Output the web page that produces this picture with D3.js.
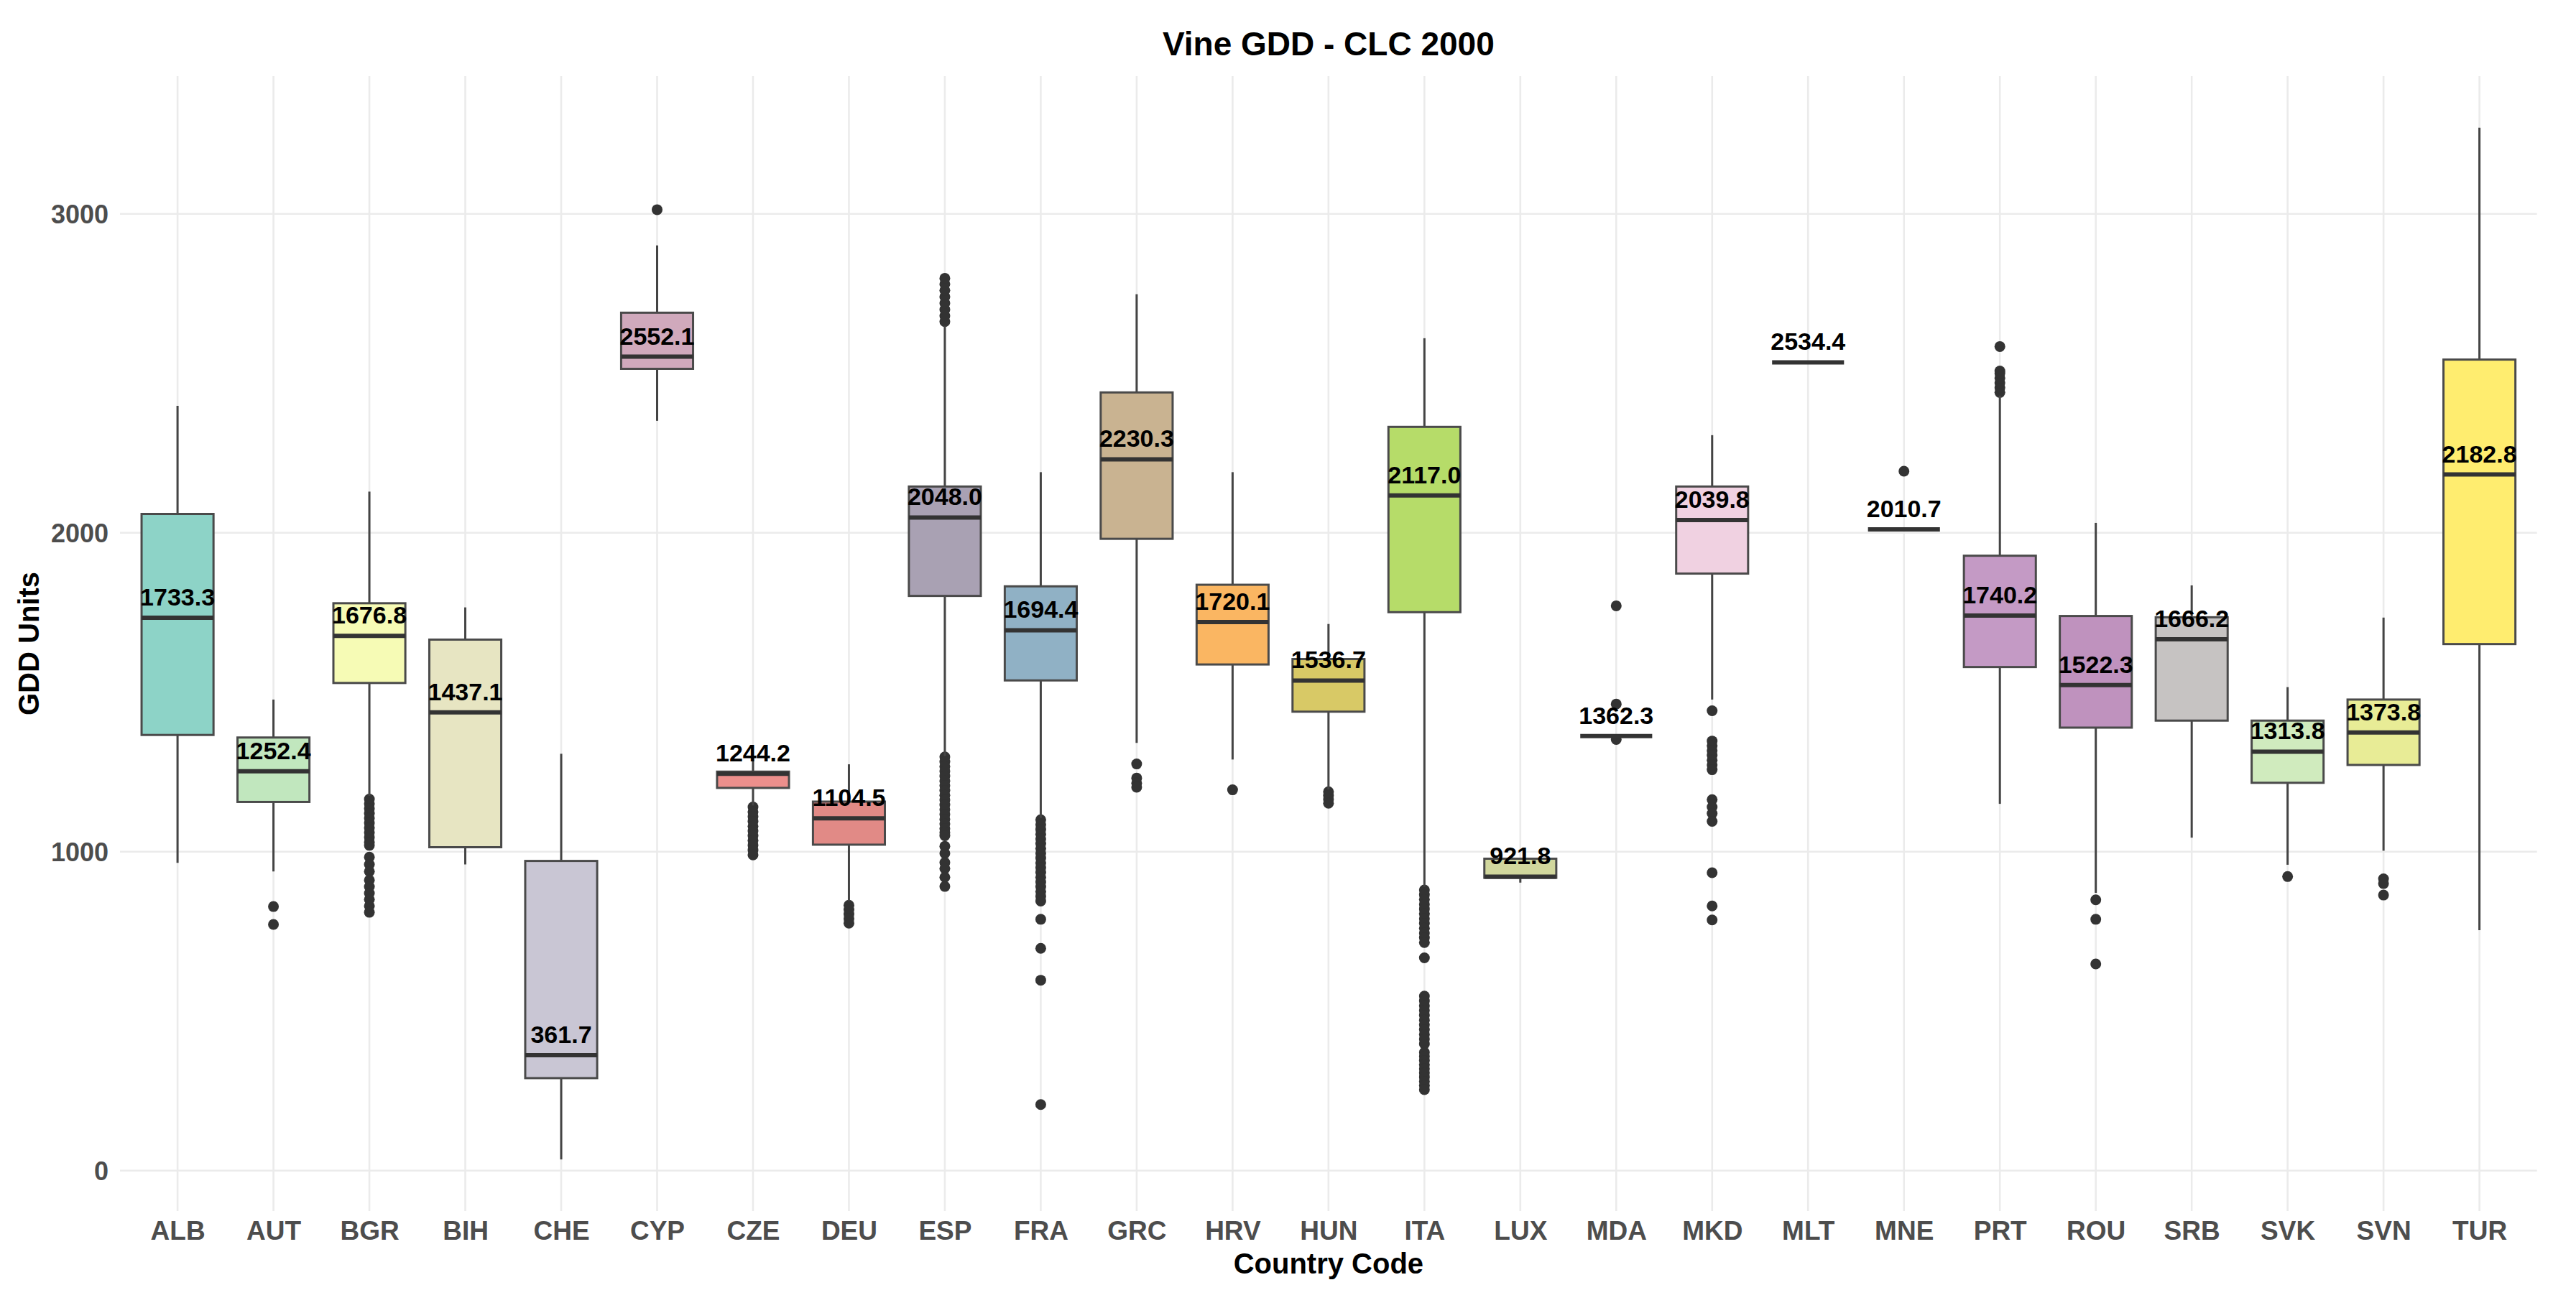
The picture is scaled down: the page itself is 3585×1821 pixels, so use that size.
<!DOCTYPE html>
<html>
<head>
<meta charset="utf-8">
<script src="https://cdn.jsdelivr.net/npm/d3@7"></script>
<style>
  html, body { margin: 0; padding: 0; background: #ffffff; }
  svg { display: block; }
  text { font-family: "Liberation Sans", Arial, Helvetica, sans-serif; }
</style>
</head>
<body>
<svg id="chart" width="3585" height="1821"></svg>
<script>
// ---------------- DATA ----------------
const countries = ["ALB","AUT","BGR","BIH","CHE","CYP","CZE","DEU","ESP","FRA","GRC","HRV","HUN",
                   "ITA","LUX","MDA","MKD","MLT","MNE","PRT","ROU","SRB","SVK","SVN","TUR"];
const medians   = [1733.3,1252.4,1676.8,1437.1,361.7,2552.1,1244.2,1104.5,2048.0,1694.4,2230.3,1720.1,1536.7,
                   2117.0,921.8,1362.3,2039.8,2534.4,2010.7,1740.2,1522.3,1666.2,1313.8,1373.8,2182.8];
const q1Values  = [1366,1156,1529,1014,290,2514,1200,1022,1802,1537,1981,1587,1439,
                   1751,918,1362.3,1872,2534.4,2010.7,1579,1389,1411,1216,1272,1651];
const q3Values  = [2059,1358,1779,1665,971,2690,1251,1157,2145,1832,2440,1837,1604,
                   2332,978,1362.3,2145,2534.4,2010.7,1928,1739,1735,1411,1477,2543];
const whiskerLow  = [965,938,1175,960,35,2351,1145,845,1300,1106,1341,1289,1195,
                     890,903,1362.3,1477,2534.4,2010.7,1150,871,1044,959,1003,754];
const whiskerHigh = [2398,1477,2129,1766,1307,2901,1300,1274,2649,2190,2748,2190,1714,
                     2610,978,1362.3,2306,2534.4,2010.7,2430,2031,1835,1516,1734,3270];
const outliers = [
  [],                                                     // ALB
  [828,772],                                              // AUT
  [1165,1150,1135,1120,1105,1090,1075,1060,1045,1030,1020,983,960,938,911,890,870,850,830,810], // BGR
  [],                                                     // BIH
  [],                                                     // CHE
  [3013],                                                 // CYP
  [1140,1125,1110,1095,1080,1065,1050,1035,1020,1005,990],// CZE
  [832,818,804,790,776],                                  // DEU
  [2662,2680,2700,2720,2740,2760,2780,2798,
   1297,1282,1267,1252,1237,1222,1207,1192,1177,1162,1147,1132,1117,1102,1087,1072,1060,1050,
   1017,995,966,947,920,891],                            // ESP
  [1100,1085,1070,1055,1040,1025,1010,995,980,965,950,935,920,905,890,875,860,845,788,697,597,207], // FRA
  [1275,1231,1215,1202],                                  // GRC
  [1194],                                                 // HRV
  [1188,1176,1164,1152],                                  // HUN
  [880,865,850,835,820,805,790,775,760,745,730,715,667,
   547,532,517,502,487,472,457,442,427,412,397,371,358,345,332,319,306,293,280,267,254], // ITA
  [],                                                     // LUX
  [1771,1463,1352],                                       // MDA
  [1442,1347,1332,1317,1302,1287,1272,1257,1163,1140,1120,1095,934,830,786], // MKD
  [],                                                     // MLT
  [2193],                                                 // MNE
  [2440,2455,2470,2485,2500,2507,2584],                   // PRT
  [849,788,648],                                          // ROU
  [],                                                     // SRB
  [922],                                                  // SVK
  [915,900,864],                                          // SVN
  []                                                      // TUR
];
const yTicks = [0, 1000, 2000, 3000];
const set3 = ["#8DD3C7","#FFFFB3","#BEBADA","#FB8072","#80B1D3","#FDB462",
              "#B3DE69","#FCCDE5","#D9D9D9","#BC80BD","#CCEBC5","#FFED6F"];
const titleText = "Vine GDD - CLC 2000";
const xTitle = "Country Code";
const yTitle = "GDD Units";

// ---------------- LAYOUT ----------------
const panel = { left: 167, right: 3530.7, top: 106, bottom: 1686 };
const svg = d3.select("#chart");

const x = d3.scalePoint().domain(countries).range([panel.left, panel.right]).padding(0.6);
const step = x.step();
const boxW = step * 0.75;

const allVals = whiskerLow.concat(whiskerHigh, outliers.flat());
const [vmin, vmax] = d3.extent(allVals);
const pad = (vmax - vmin) * 0.05;
const y = d3.scaleLinear().domain([vmin - pad, vmax + pad]).range([panel.bottom, panel.top]);

const ramp = d3.piecewise(d3.interpolateRgb, set3);
const color = d3.scaleOrdinal().domain(countries)
  .range(countries.map((c, i) => ramp(i / (countries.length - 1))));

const data = countries.map((c, i) => ({
  c, med: medians[i], q1: q1Values[i], q3: q3Values[i],
  lo: whiskerLow[i], hi: whiskerHigh[i], out: outliers[i]
}));

// ---------------- GRID ----------------
const grid = svg.append("g");
grid.selectAll("line.h").data(yTicks).join("line")
  .attr("x1", panel.left).attr("x2", panel.right)
  .attr("y1", d => y(d)).attr("y2", d => y(d))
  .attr("stroke", "#EBEBEB").attr("stroke-width", 2.6);
grid.selectAll("line.v").data(countries).join("line")
  .attr("x1", d => x(d)).attr("x2", d => x(d))
  .attr("y1", panel.top).attr("y2", panel.bottom)
  .attr("stroke", "#EBEBEB").attr("stroke-width", 2.6);

// ---------------- AXES (text only, like theme_minimal) ----------------
const xAxis = svg.append("g")
  .attr("transform", `translate(0,${panel.bottom})`)
  .call(d3.axisBottom(x).tickSize(0).tickPadding(0));
xAxis.select(".domain").remove();
xAxis.selectAll("text")
  .attr("y", 40).attr("dy", 0)
  .attr("fill", "#4D4D4D")
  .style("font-size", "37px").style("font-weight", "bold")
  .style("font-family", '"Liberation Sans", Arial, sans-serif');

const yAxis = svg.append("g")
  .attr("transform", `translate(${panel.left},0)`)
  .call(d3.axisLeft(y).tickValues(yTicks).tickFormat(d3.format("d")).tickSize(0).tickPadding(0));
yAxis.select(".domain").remove();
yAxis.selectAll("text")
  .attr("x", -16).attr("dy", "0.36em")
  .attr("fill", "#4D4D4D")
  .style("font-size", "36px").style("font-weight", "bold")
  .style("font-family", '"Liberation Sans", Arial, sans-serif');

// ---------------- BOXES ----------------
const boxes = svg.append("g");
const g = boxes.selectAll("g.box").data(data).join("g").attr("class", "box");

// outliers
g.each(function(d) {
  d3.select(this).selectAll("circle").data(d.out).join("circle")
    .attr("cx", x(d.c)).attr("cy", v => y(v)).attr("r", 7.5)
    .attr("fill", "#333333");
});
// whiskers
g.filter(d => d.hi > d.q3).append("line")
  .attr("x1", d => x(d.c)).attr("x2", d => x(d.c))
  .attr("y1", d => y(d.q3)).attr("y2", d => y(d.hi))
  .attr("stroke", "#444444").attr("stroke-width", 3);
g.filter(d => d.lo < d.q1).append("line")
  .attr("x1", d => x(d.c)).attr("x2", d => x(d.c))
  .attr("y1", d => y(d.q1)).attr("y2", d => y(d.lo))
  .attr("stroke", "#444444").attr("stroke-width", 3);
// box
g.append("rect")
  .attr("x", d => x(d.c) - boxW / 2).attr("width", boxW)
  .attr("y", d => y(d.q3)).attr("height", d => Math.max(0, y(d.q1) - y(d.q3)))
  .attr("fill", d => color(d.c))
  .attr("stroke", "#4a4a4a").attr("stroke-width", 3);
// median
g.append("line")
  .attr("x1", d => x(d.c) - boxW / 2).attr("x2", d => x(d.c) + boxW / 2)
  .attr("y1", d => y(d.med)).attr("y2", d => y(d.med))
  .attr("stroke", "#333333").attr("stroke-width", 6);

// median labels
svg.append("g").selectAll("text").data(data).join("text")
  .attr("x", d => x(d.c)).attr("y", d => y(d.med) - 17)
  .attr("text-anchor", "middle")
  .attr("fill", "#000000")
  .style("font-size", "34px").style("font-weight", "bold")
  .text(d => d.med.toFixed(1));

// ---------------- TITLES ----------------
const cx = (panel.left + panel.right) / 2;
svg.append("text").attr("x", cx).attr("y", 77)
  .attr("text-anchor", "middle").attr("fill", "#000")
  .style("font-size", "46px").style("font-weight", "bold")
  .text(titleText);
svg.append("text").attr("x", cx).attr("y", 1773)
  .attr("text-anchor", "middle").attr("fill", "#000")
  .style("font-size", "40px").style("font-weight", "bold")
  .text(xTitle);
svg.append("text")
  .attr("transform", `translate(54,${(panel.top + panel.bottom) / 2}) rotate(-90)`)
  .attr("text-anchor", "middle").attr("fill", "#000")
  .style("font-size", "40px").style("font-weight", "bold")
  .text(yTitle);
</script>
</body>
</html>
